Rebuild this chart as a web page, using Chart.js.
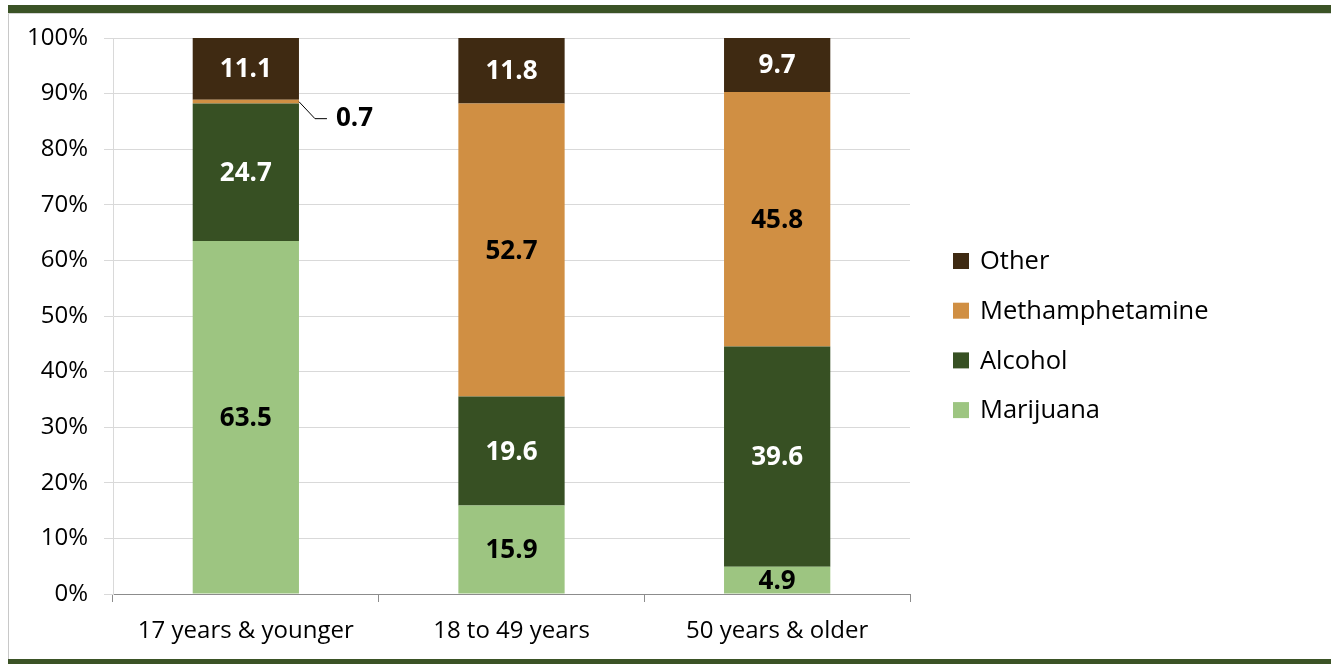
<!DOCTYPE html>
<html>
<head>
<meta charset="utf-8">
<script src="https://cdn.jsdelivr.net/npm/chart.js@4/dist/chart.umd.min.js"></script>
<style>
  html, body { margin: 0; padding: 0; background: #ffffff; }
  #wrap { position: relative; width: 1331px; height: 664px; overflow: hidden; background: #fff; }
  #c { position: absolute; left: 0; top: 0; }
  .bar-top { position: absolute; left: 8px; top: 5px; width: 1323px; height: 8px; background: #3b5326; border-bottom: 1px solid #d4d4d4; }
  .bar-bot { position: absolute; left: 8px; top: 659px; width: 1323px; height: 5px; background: #3b5326; }
  .side { position: absolute; left: 8px; top: 14px; width: 1px; height: 645px; background: #c8c8c8; }
</style>
</head>
<body>
<div id="wrap">
  <canvas id="c" width="1331" height="664"></canvas>
  <div class="bar-top"></div>
  <div class="side"></div>
  <div class="bar-bot"></div>
</div>
<script>
const categories = ["17 years & younger", "18 to 49 years", "50 years & older"];
const marijuana = [63.5, 15.9, 4.9];
const alcohol = [24.7, 19.6, 39.6];
const methamphetamine = [0.7, 52.7, 45.8];
const other = [11.1, 11.8, 9.7];
const yTicks = [0, 10, 20, 30, 40, 50, 60, 70, 80, 90, 100];

const FONT = "'Open Sans', 'Noto Sans', sans-serif";

const datasets = [
  { label: "Marijuana", data: marijuana, backgroundColor: "#9dc581", labelColor: "#000000" },
  { label: "Alcohol", data: alcohol, backgroundColor: "#375023", labelColor: "#ffffff" },
  { label: "Methamphetamine", data: methamphetamine, backgroundColor: "#d08f43", labelColor: "#000000" },
  { label: "Other", data: other, backgroundColor: "#3f2a12", labelColor: "#ffffff" }
];

const valueLabels = {
  id: "valueLabels",
  afterDatasetsDraw(chart) {
    const ctx = chart.ctx;
    ctx.save();
    ctx.font = "bold 26px " + FONT;
    ctx.textAlign = "center";
    ctx.textBaseline = "middle";
    chart.data.datasets.forEach((ds, di) => {
      const meta = chart.getDatasetMeta(di);
      meta.data.forEach((bar, i) => {
        const v = ds.data[i];
        const p = bar.getProps(["x", "y", "base", "width"], true);
        const cy = (p.y + p.base) / 2;
        const txt = v.toFixed(1);
        if (v < 2) {
          const x0 = p.x + p.width / 2;
          ctx.strokeStyle = "#000";
          ctx.lineWidth = 1;
          ctx.beginPath();
          ctx.moveTo(x0, cy);
          ctx.lineTo(x0 + 16, cy + 17);
          ctx.lineTo(x0 + 28, cy + 17);
          ctx.stroke();
          ctx.fillStyle = "#000";
          ctx.textAlign = "left";
          ctx.fillText(txt, x0 + 37, cy + 17);
          ctx.textAlign = "center";
        } else {
          ctx.fillStyle = ds.labelColor;
          ctx.fillText(txt, p.x, cy + 1);
        }
      });
    });
    ctx.restore();
  }
};

const sideLegend = {
  id: "sideLegend",
  afterDraw(chart) {
    const ctx = chart.ctx;
    const ca = chart.chartArea;
    ctx.save();
    ctx.font = "25.5px " + FONT;
    ctx.textBaseline = "middle";
    ctx.textAlign = "left";
    const items = chart.data.datasets.slice().reverse();
    const x = ca.right + 43;
    const y0 = 261;
    const step = 49.7;
    items.forEach((ds, k) => {
      const y = y0 + k * step;
      ctx.fillStyle = ds.backgroundColor;
      ctx.fillRect(x, y - 8, 16, 16);
      ctx.fillStyle = "#000";
      ctx.fillText(ds.label, x + 27, y + 1);
    });
    ctx.restore();
  }
};

new Chart(document.getElementById("c"), {
  type: "bar",
  data: { labels: categories, datasets: datasets },
  options: {
    responsive: false,
    animation: false,
    devicePixelRatio: 1,
    layout: { padding: { left: 0, top: 38, right: 421, bottom: 0 } },
    plugins: { legend: { display: false }, tooltip: { enabled: false } },
    datasets: { bar: { barPercentage: 0.4, categoryPercentage: 1.0 } },
    scales: {
      x: {
        stacked: true,
        afterFit(s) { s.height = 70; },
        grid: { offset: true, drawOnChartArea: false, drawTicks: true, tickLength: 8, color: "#8c8c8c" },
        border: { color: "#8c8c8c", width: 1 },
        ticks: { color: "#000", font: { family: FONT, size: 24 }, padding: 15 }
      },
      y: {
        stacked: true,
        min: 0,
        max: 100,
        afterFit(s) { s.width = 113; },
        afterBuildTicks(s) { s.ticks = yTicks.map(v => ({ value: v })); },
        grid: { color: "#d9d9d9", tickLength: 9 },
        border: { color: "#d9d9d9" },
        ticks: { color: "#000", font: { family: FONT, size: 24 }, padding: 16, callback: v => v + "%" }
      }
    }
  },
  plugins: [valueLabels, sideLegend]
});
</script>
</body>
</html>
